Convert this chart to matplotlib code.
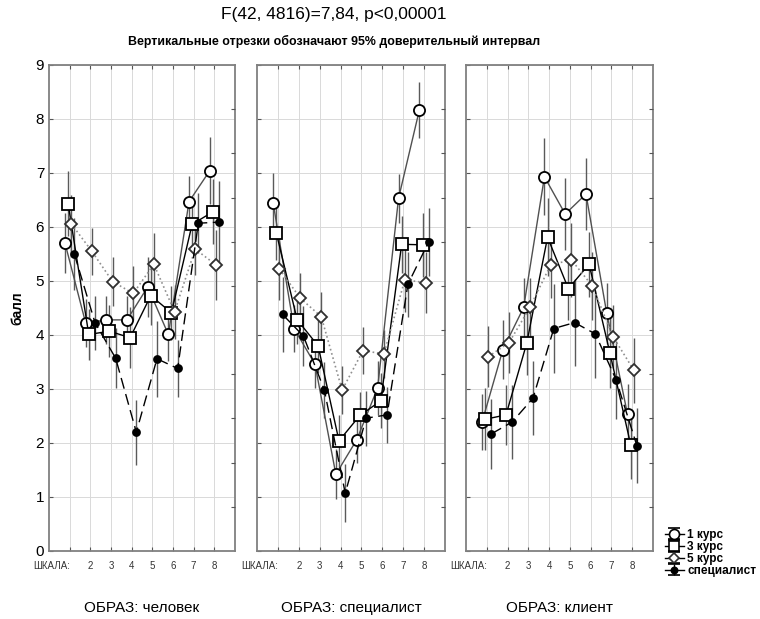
import numpy as np
import matplotlib.pyplot as plt

plt.rcParams['font.family'] = ['Liberation Sans', 'DejaVu Sans']

scales = [1, 2, 3, 4, 5, 6, 7, 8]
scale_labels = ['ШКАЛА:', '2', '3', '4', '5', '6', '7', '8']
groups = ['1 курс', '3 курс', '5 курс', 'специалист']
panel_titles = ['ОБРАЗ: человек', 'ОБРАЗ: специалист', 'ОБРАЗ: клиент']

# ОБРАЗ: человек
man_k1 = [5.70, 4.22, 4.28, 4.28, 4.89, 4.01, 6.47, 7.04]
man_k3 = [6.43, 4.01, 4.07, 3.95, 4.73, 4.41, 6.05, 6.28]
man_k5 = [6.06, 5.55, 4.99, 4.77, 5.31, 4.43, 5.59, 5.30]
man_sp = [5.50, 4.23, 3.57, 2.20, 3.56, 3.38, 6.07, 6.09]
man_k1_ci = [0.56, 0.45, 0.45, 0.45, 0.56, 0.50, 0.48, 0.62]
man_k3_ci = [0.60, 0.48, 0.48, 0.57, 0.55, 0.50, 0.50, 0.60]
man_k5_ci = [0.54, 0.44, 0.46, 0.50, 0.58, 0.50, 0.48, 0.65]
man_sp_ci = [0.67, 0.50, 0.56, 0.60, 0.70, 0.52, 0.56, 0.77]

# ОБРАЗ: специалист
spec_k1 = [6.44, 4.12, 3.46, 1.42, 2.06, 3.02, 6.53, 8.17]
spec_k3 = [5.89, 4.28, 3.80, 2.04, 2.51, 2.78, 5.68, 5.67]
spec_k5 = [5.22, 4.68, 4.34, 2.98, 3.71, 3.65, 5.02, 4.97]
spec_sp = [4.38, 3.98, 2.98, 1.07, 2.46, 2.52, 4.94, 5.73]
spec_k1_ci = [0.56, 0.43, 0.44, 0.46, 0.43, 0.50, 0.46, 0.52]
spec_k3_ci = [0.50, 0.45, 0.50, 0.48, 0.44, 0.51, 0.53, 0.59]
spec_k5_ci = [0.57, 0.46, 0.46, 0.44, 0.44, 0.45, 0.60, 0.56]
spec_sp_ci = [0.69, 0.56, 0.52, 0.54, 0.51, 0.52, 0.60, 0.63]

# ОБРАЗ: клиент
cl_k1 = [2.39, 3.73, 4.51, 6.93, 6.24, 6.61, 4.40, 2.53]
cl_k3 = [2.44, 2.52, 3.85, 5.81, 4.86, 5.31, 3.67, 1.97]
cl_k5 = [3.60, 3.86, 4.51, 5.30, 5.39, 4.91, 3.97, 3.35]
cl_sp = [2.17, 2.39, 2.83, 4.12, 4.23, 4.02, 3.17, 1.95]
cl_k1_ci = [0.52, 0.54, 0.54, 0.71, 0.66, 0.67, 0.57, 0.56]
cl_k3_ci = [0.57, 0.55, 0.59, 0.72, 0.59, 0.60, 0.66, 0.63]
cl_k5_ci = [0.56, 0.57, 0.55, 0.62, 0.68, 0.63, 0.59, 0.60]
cl_sp_ci = [0.65, 0.68, 0.68, 0.82, 0.81, 0.82, 0.72, 0.69]

panels = [
    ([man_k1, man_k3, man_k5, man_sp], [man_k1_ci, man_k3_ci, man_k5_ci, man_sp_ci]),
    ([spec_k1, spec_k3, spec_k5, spec_sp], [spec_k1_ci, spec_k3_ci, spec_k5_ci, spec_sp_ci]),
    ([cl_k1, cl_k3, cl_k5, cl_sp], [cl_k1_ci, cl_k3_ci, cl_k5_ci, cl_sp_ci]),
]

# marker / line style per group
offsets = [-0.225, -0.075, 0.075, 0.225]
styles = [
    dict(marker='o', ms=8, mfc='white', mec='black', color='#505050', ls='-', lw=1.0),
    dict(marker='s', ms=8, mfc='white', mec='black', color='black', ls='-', lw=1.0),
    dict(marker='D', ms=6, mfc='white', mec='#303030', color='#909090', ls=':', lw=1.2),
    dict(marker='o', ms=5, mfc='black', mec='black', color='black', ls=(0, (8, 4)), lw=1.0),
]

fig = plt.figure(figsize=(7.6, 6.19), dpi=100)
lefts = [49, 257, 466]
widths = [186, 188, 187]
axes = []
for i in range(3):
    ax = fig.add_axes([lefts[i] / 760, 1 - 551 / 619, widths[i] / 760, 486 / 619])
    axes.append(ax)
    means, cis = panels[i]
    for g in range(4):
        x = np.array(scales) + offsets[g]
        st = styles[g]
        ax.errorbar(x, means[g], yerr=cis[g], fmt='none', ecolor='#5a5a5a',
                    elinewidth=1.0, zorder=2)
        ax.plot(x, means[g], marker=st['marker'], ms=st['ms'], mfc=st['mfc'],
                mec=st['mec'], mew=1.3, color=st['color'], ls=st['ls'],
                lw=st['lw'], zorder=3 + g * 0.1)
    ax.set_xlim(0, 9)
    ax.set_ylim(0, 9)
    ax.set_xticks(scales)
    ax.set_yticks(range(10))
    ax.grid(True, color='#d9d9d9', lw=0.7)
    ax.set_axisbelow(True)
    ax.tick_params(direction='in', top=True, length=3, color='#555555')
    ax.tick_params(axis='x', pad=7)
    ax.set_xticklabels(scale_labels, fontsize=7, color='#333333')
    ax.get_xticklabels()[0].set_ha('right')
    ax.get_xticklabels()[0].set_x(1.15)
    if i == 0:
        ax.tick_params(axis='y', labelsize=11)
        ax.set_ylabel('балл', fontsize=10, fontweight='bold', labelpad=8)
    else:
        ax.set_yticklabels([])
    for sp in ax.spines.values():
        sp.set_color('#808080')
        sp.set_linewidth(1.3)
    ax.set_xlabel(panel_titles[i], fontsize=11, labelpad=22)
    # right-hand ticks (separate scale, no labels)
    ax2 = ax.twinx()
    ax2.set_ylim(0, 11)
    ax2.set_yticks(range(1, 11))
    ax2.set_yticklabels([])
    ax2.tick_params(direction='in', length=3, color='#555555')
    for sp in ax2.spines.values():
        sp.set_visible(False)

# legend proxies with error bar caps
leg_handles = []
for g in range(4):
    st = styles[g]
    h = axes[2].errorbar([np.nan], [np.nan], yerr=[1], marker=st['marker'], ms=st['ms'] * 0.9,
                         mfc=st['mfc'], mec=st['mec'], mew=1.2, color='black',
                         ls='-', lw=1.0, ecolor='black', elinewidth=1.0, capsize=4)
    leg_handles.append(h)
fig.legend(leg_handles, groups, loc='upper left', bbox_to_anchor=(660 / 760, 1 - 524 / 619),
           frameon=False, handlelength=1.6, handletextpad=0.3, labelspacing=0.0,
           borderaxespad=0, prop={'family': ['Liberation Sans Narrow', 'Liberation Sans'],
                                  'weight': 'bold', 'size': 8.5})

fig.text(334 / 760, 1 - 14 / 619, 'F(42, 4816)=7,84, p<0,00001', ha='center', va='center',
         fontsize=12.5)
fig.text(334 / 760, 1 - 41 / 619, 'Вертикальные отрезки обозначают 95% доверительный интервал',
         ha='center', va='center', fontsize=8.9, fontweight='bold',
         family=['Liberation Sans Narrow', 'Liberation Sans'])

fig.savefig('out.png', dpi=100)
